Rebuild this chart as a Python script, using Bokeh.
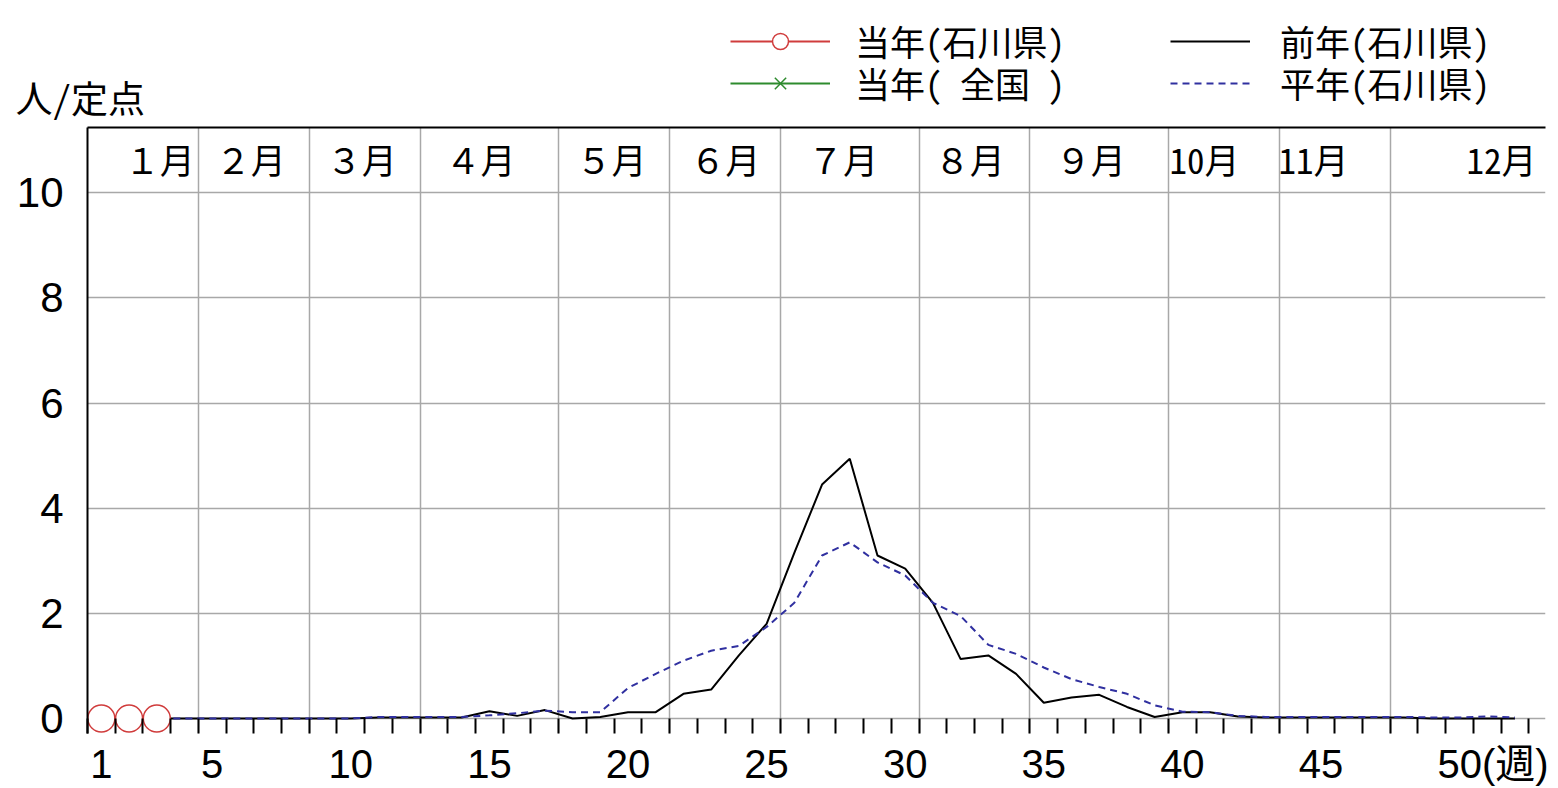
from bokeh.plotting import figure
from bokeh.layouts import column
from bokeh.models import (FixedTicker, Label, LinearAxis, Legend, LegendItem)
from bokeh.embed import file_html
from bokeh.resources import INLINE
from bokeh.core.properties import value

NAN = float("nan")

# ---------------- data ----------------
weeks = list(range(1, 53))

# 前年(石川県)
prev_year = [0, 0, 0, 0, 0, 0, 0, 0, 0, 0,
             0.02, 0.02, 0.02, 0.02, 0.14, 0.05, 0.16, 0.0, 0.03, 0.12,
             0.12, 0.47, 0.55, 1.2, 1.8, 3.15, 4.45, 4.94, 3.1, 2.85,
             2.2, 1.13, 1.2, 0.85, 0.3, 0.4, 0.45, 0.22, 0.03, 0.12,
             0.12, 0.04, 0.02, 0.02, 0.02, 0.02, 0.02, 0.02, 0.0, 0.0,
             0.0, 0.0]

# 平年(石川県)
normal_year = [0, 0, 0, 0, 0, 0, 0, 0, 0, 0,
               0.03, 0.03, 0.03, 0.03, 0.06, 0.1, 0.15, 0.12, 0.12, 0.58,
               0.85, 1.1, 1.29, 1.38, 1.74, 2.2, 3.1, 3.35, 2.97, 2.72,
               2.2, 1.95, 1.4, 1.23, 0.97, 0.75, 0.6, 0.47, 0.25, 0.13,
               0.12, 0.05, 0.03, 0.03, 0.03, 0.03, 0.03, 0.03, 0.02, 0.02,
               0.04, 0.02]

# 当年(石川県)
this_year_weeks = [1, 2, 3]
this_year = [0, 0, 0]

# 当年(全国) - nothing plotted
national_weeks = []
national = []

month_names = ["１月", "２月", "３月", "４月", "５月", "６月",
               "７月", "８月", "９月", "10月", "11月", "12月"]
month_label_week = [3.11, 6.39, 10.39, 14.68, 19.40, 23.51,
                    27.76, 32.33, 36.69, 40.80, 44.73, 51.51]
month_bounds = [4.5, 8.5, 12.5, 17.5, 21.5, 25.5, 30.5, 34.5, 39.5, 43.5, 47.5]

x_label_weeks = [1, 5, 10, 15, 20, 25, 30, 35, 40, 45, 50]
x_label_text = ["1", "5", "10", "15", "20", "25", "30", "35", "40", "45", "50(週)"]
y_ticks = [0, 2, 4, 6, 8, 10]

# ---------------- layout constants ----------------
W = 1556
HEAD_H = 125
MAIN_H = 663
X0, X1 = 0.5, 53.1
Y0, Y1 = -0.285, 11.24
MONTH_Y = 10.65
LAST_LABEL_SHIFT = 1.21   # centre "50" of "50(週)" on week 50

CJK_FONT = "Noto Sans Mono CJK JP, Noto Sans CJK JP, sans-serif"
NUM_FONT = "Liberation Sans, Noto Sans CJK JP, sans-serif"

GRID = "#a8a8a8"
RED = "#d03c3c"
GREEN = "#2e8b2e"
BLUE = "#3030a0"


def no_align(fig):
    if "frame_align" in fig.properties():
        fig.frame_align = False


# ---------------- header (legend + unit) ----------------
h = figure(width=W, height=HEAD_H, x_range=(0, W), y_range=(HEAD_H, 0),
           output_backend="svg", toolbar_location=None,
           x_axis_location=None, y_axis_location=None,
           min_border_left=0, min_border_right=0, min_border_top=0, min_border_bottom=0)
h.outline_line_color = None
h.xgrid.visible = False
h.ygrid.visible = False
no_align(h)

# legend samples (no visible data)
lg_this_line = h.line([NAN], [NAN], line_color=RED, line_width=2)
lg_this_pts = h.scatter([NAN], [NAN], marker="circle", size=22, line_color=RED,
                        fill_color="white", line_width=1.5)
lg_nat_line = h.line([NAN], [NAN], line_color=GREEN, line_width=2)
lg_nat_pts = h.scatter([NAN], [NAN], marker="x", size=16, line_color=GREEN, line_width=1.5)
lg_prev = h.line([NAN], [NAN], line_color="black", line_width=2)
lg_norm = h.line([NAN], [NAN], line_color=BLUE, line_width=2, line_dash="7 5")


def make_legend(label, renderers, loc, gw, standoff):
    return Legend(items=[LegendItem(label=label, renderers=renderers)],
                  location=loc, glyph_width=gw, glyph_height=40,
                  label_height=40, label_standoff=standoff, padding=0, margin=0,
                  spacing=0, border_line_color=None, background_fill_alpha=0,
                  label_text_font=CJK_FONT, label_text_font_size="35px",
                  label_text_color="black")


h.add_layout(make_legend("当年(石川県)", [lg_this_line, lg_this_pts], (730, HEAD_H - 66), 100, 25))
h.add_layout(make_legend("当年( 全国 )", [lg_nat_line, lg_nat_pts], (730, HEAD_H - 108), 100, 25))
h.add_layout(make_legend("前年(石川県)", [lg_prev], (1170, HEAD_H - 66), 80, 30))
h.add_layout(make_legend("平年(石川県)", [lg_norm], (1170, HEAD_H - 108), 80, 30))

h.add_layout(Label(x=15, y=96, text="人/定点", text_font=CJK_FONT,
                   text_font_size="37px", text_color="black",
                   text_align="left", text_baseline="middle"))

# ---------------- main chart ----------------
p = figure(width=W, height=MAIN_H, x_range=(X0, X1), y_range=(Y0, Y1),
           output_backend="svg", toolbar_location=None,
           min_border_left=87, min_border_right=11,
           min_border_top=2, min_border_bottom=55)
p.outline_line_color = None
p.background_fill_color = "white"
p.border_fill_color = "white"
no_align(p)

label_ticks = x_label_weeks[:-1] + [x_label_weeks[-1] + LAST_LABEL_SHIFT]
xa = p.xaxis[0]
xa.ticker = FixedTicker(ticks=label_ticks,
                        minor_ticks=[w - 0.5 for w in weeks] + [weeks[-1] + 0.5])
xa.major_label_overrides = {t: s for t, s in zip(label_ticks, x_label_text)}
xa.major_tick_line_color = None
xa.major_tick_in = 0
xa.major_tick_out = 0
xa.minor_tick_line_color = "black"
xa.minor_tick_line_width = 2
xa.minor_tick_in = 15
xa.minor_tick_out = 0
xa.axis_line_color = None
xa.major_label_text_font = NUM_FONT
xa.major_label_text_font_size = "40px"
xa.major_label_text_color = "black"
xa.major_label_standoff = 8

ya = p.yaxis[0]
ya.ticker = FixedTicker(ticks=y_ticks)
ya.major_tick_in = 0
ya.major_tick_out = 0
ya.minor_tick_line_color = None
ya.axis_line_color = "black"
ya.axis_line_width = 2
ya.major_label_standoff = 24
ya.major_label_text_font = NUM_FONT
ya.major_label_text_font_size = "42px"
ya.major_label_text_color = "black"

# top border of the plot area
top_axis = LinearAxis(ticker=FixedTicker(ticks=[]), axis_line_color="black",
                      axis_line_width=2, major_tick_line_color=None,
                      minor_tick_line_color=None, major_tick_in=0, major_tick_out=0,
                      minor_tick_in=0, minor_tick_out=0, major_label_standoff=0)
p.add_layout(top_axis, "above")

p.xgrid.ticker = FixedTicker(ticks=month_bounds)
p.xgrid.grid_line_color = GRID
p.xgrid.grid_line_width = 1.5
p.ygrid.grid_line_color = GRID
p.ygrid.grid_line_width = 1.5

# month labels
p.text(x=month_label_week, y=[MONTH_Y] * len(month_names), text=month_names,
       text_font=value(CJK_FONT), text_font_size="35px", text_color="black",
       text_align="center", text_baseline="middle")

# series
p.line(weeks, prev_year, line_color="black", line_width=2)
p.line(weeks, normal_year, line_color=BLUE, line_width=2, line_dash="7 5")
p.line(national_weeks, national, line_color=GREEN, line_width=2)
p.scatter(national_weeks, national, marker="x", size=16, line_color=GREEN, line_width=1.5)
p.line(this_year_weeks, this_year, line_color=RED, line_width=2)
p.scatter(this_year_weeks, this_year, marker="circle", size=27,
          line_color=RED, fill_color="white", line_width=1.5)

layout = column(h, p, spacing=0)
open("out.html", "w").write(file_html(layout, INLINE))
